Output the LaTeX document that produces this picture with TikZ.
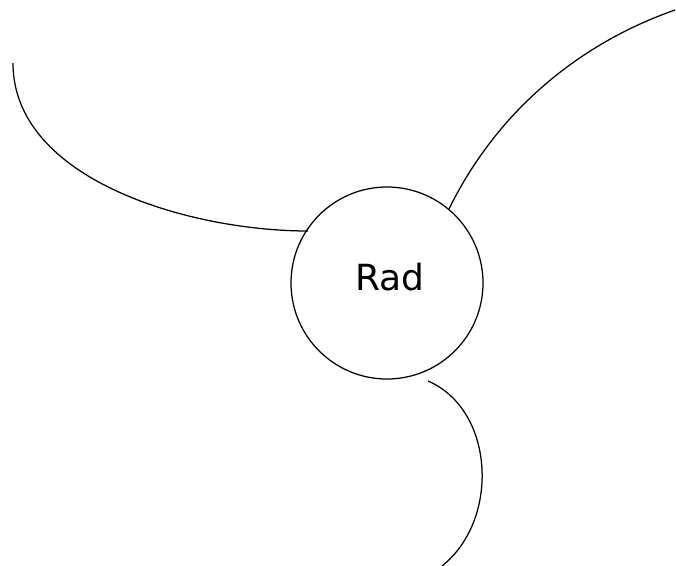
\documentclass[tikz,border=0pt]{standalone}
\usepackage{fontspec}
\setmainfont{DejaVu Sans}
\begin{document}
\begin{tikzpicture}[x=1pt,y=-1pt,
  conn/.style={draw=black,line width=1.25pt},
  radnode/.style={circle,draw=black,line width=1.25pt,minimum size=192pt,inner sep=0pt}]
\useasboundingbox (0,0) rectangle (676,565);
\node[radnode] (c) at (387,283) {};
\node (t) at (390,277) {\fontsize{36}{43}\selectfont Rad};
\coordinate (a1) at (13,63);
\coordinate (a2) at (308,231);
\coordinate (b1) at (449,209);
\coordinate (b2) at (675,10);
\coordinate (d1) at (428,381);
\coordinate (d2) at (442,566);
\draw[conn] (a1) .. controls (13,180) and (190,231) .. (a2);
\draw[conn] (b1) .. controls (495,115) and (575,45) .. (b2);
\draw[conn] (d1) .. controls (495,410) and (500,520) .. (d2);
\end{tikzpicture}
\end{document}
